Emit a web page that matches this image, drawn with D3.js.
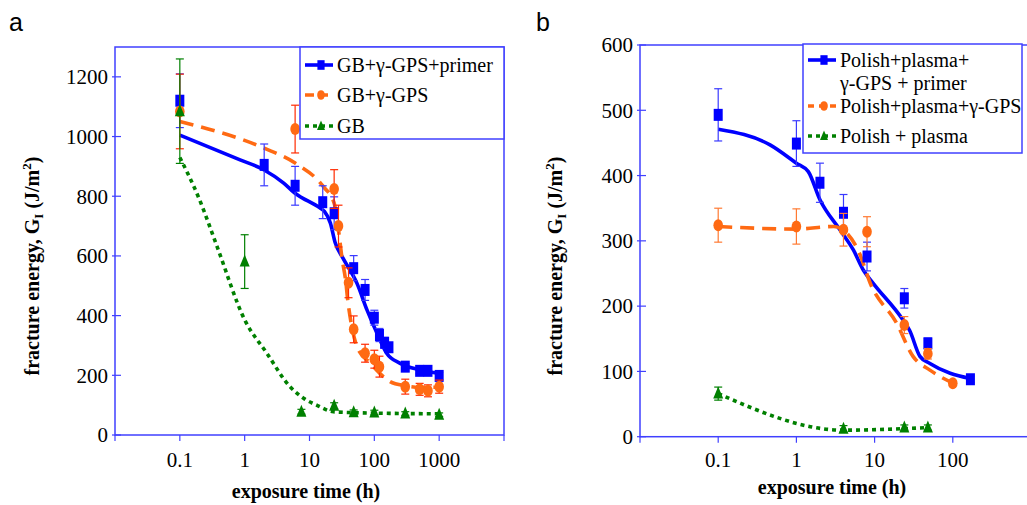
<!DOCTYPE html>
<html>
<head>
  <meta charset="utf-8">
  <script src="https://cdn.jsdelivr.net/npm/d3@7"></script>
  <style>
    body { margin: 0; background: #fff; }
  </style>
</head>
<body>
<script>
// ---- panel a data : [time (h), G (J/m2), error] ----
var aPrimer = [[0.1,1120,90],[2,905,70],[6,835,65],[16,780,55],[24,743,55],[48,559,42],[72,486,35],
  [100,393,25],[120,335,22],[144,309,18],[168,294,15],[300,229,10],[500,215,10],[672,215,10],[1000,198,12]];
var aGps = [[0.1,1084,125],[6,1025,80],[24,824,65],[28,700,70],[40,510,50],[48,354,45],[72,274,30],
  [100,254,30],[120,229,35],[300,162,25],[500,153,20],[672,148,20],[1000,162,22]];
var aGb = [[0.1,1085,175],[1,581,90],[7.5,78,8],[24,98,10],[48,76,8],[100,75,8],[300,72,6],[1000,68,6]];
// fitted trend curves, panel a
var aPrimerFit = [[0.1,1005],[0.85,922],[2,888],[4,844],[6,810],[14.6,760],[17,749],[21,710],[25,643],
  [33,592],[54,508],[77,419],[110,341],[155,274],[250,240],[510,218],[1000,207]];
var aGpsFit = [[0.1,1050],[2,961],[6,911],[16.4,832],[24,777],[28,687],[32,587],[36,520],[39,450],
  [44,374],[54,296],[87,240],[175,179],[300,165],[500,160],[1000,160]];
var aGbFit = [[0.1,930],[0.2,790],[0.37,635],[1,386],[2.2,274],[5,162],[8.1,123],[12.9,100],
  [23.4,78],[47,75],[1000,71]];

// ---- panel b data ----
var bPrimer = [[0.1,493,40],[1,449,35],[2,389,30],[4,343,28],[8,276,22],[24,212,15],[48,143,8],[168,88,5]];
var bGps = [[0.1,324,26],[1,322,27],[4,317,25],[8,314,23],[24,171,13],[48,127,8],[100,82,4]];
var bPlasma = [[0.1,66,10],[4,12,5],[24,14,4],[48,14,4]];
var bPrimerFit = [[0.1,471],[0.46,447],[1,419],[1.42,406],[2,363],[3.6,317],[5.35,286],[7.2,255],
  [9.6,235],[23,179],[28,163],[38,123],[51,112],[168,89]];
var bGpsFit = [[0.1,322],[1,318],[3,322],[4.4,312],[6.4,281],[8.8,235],[19.1,174],[31,123],[51,102],[100,82]];
var bPlasmaFit = [[0.1,66],[4,10],[48,14]];

var aYTicks = [0,200,400,600,800,1000,1200];
var bYTicks = [0,100,200,300,400,500,600];
var aXTicks = [0.1,1,10,100,1000];
var bXTicks = [0.1,1,10,100];

var legendA = ["GB+\u03b3-GPS+primer","GB+\u03b3-GPS","GB"];
var legendB = [["Polish+plasma+","\u03b3-GPS + primer"],["Polish+plasma+\u03b3-GPS"],["Polish + plasma"]];

var BLUE = "#0000ff", ORANGE = "#ff6a13", GREEN = "#008000", FRAME = "#4040ff";
var SERIF = "Liberation Serif";

var svg = d3.select("body").append("svg").attr("width", 1027).attr("height", 505);

function txt(g) {
  return g.append("text").style("font-family", SERIF);
}

function panel(o) {
  var x = d3.scaleLog().domain(o.xDom).range([o.left, o.right]);
  var y = d3.scaleLinear().domain(o.yDom).range([o.bottom, o.top]);
  var g = svg.append("g");

  // frame
  g.append("rect").attr("x", o.left).attr("y", o.top)
    .attr("width", o.right - o.left).attr("height", o.bottom - o.top)
    .attr("fill", "none").attr("stroke", FRAME).attr("stroke-width", 1.5);

  // y ticks + labels
  o.yTicks.forEach(function (t) {
    g.append("line").attr("x1", o.left - 3).attr("x2", o.left + 6)
      .attr("y1", y(t)).attr("y2", y(t)).attr("stroke", FRAME).attr("stroke-width", 1.2);
    txt(g).attr("x", o.left - 7).attr("y", y(t)).attr("dy", "0.35em")
      .attr("text-anchor", "end").style("font-size", "21px").text(t);
  });
  // x ticks (decades) + labels
  var dec = [];
  for (var p = Math.log10(o.xDom[0]); p <= Math.log10(o.xDom[1]) + 1e-9; p++) dec.push(Math.pow(10, p));
  dec.forEach(function (t) {
    g.append("line").attr("x1", x(t)).attr("x2", x(t))
      .attr("y1", o.bottom).attr("y2", o.bottom + 6).attr("stroke", FRAME).attr("stroke-width", 1.2);
  });
  o.xTicks.forEach(function (t) {
    txt(g).attr("x", x(t)).attr("y", 467).attr("text-anchor", "middle")
      .style("font-size", "21px").text(t);
  });

  // axis titles
  txt(g).attr("x", o.xLabelX).attr("y", o.xLabelY).attr("text-anchor", "middle")
    .style("font-size", "20px").style("font-weight", "bold").text("exposure time (h)");
  var yl = txt(g).attr("transform", "translate(" + o.yLabelX + ",266) rotate(-90)")
    .attr("text-anchor", "middle").style("font-size", "20px").style("font-weight", "bold");
  yl.append("tspan").text("fracture energy, G");
  yl.append("tspan").attr("dy", 4).style("font-size", "13px").text("I");
  yl.append("tspan").attr("dy", -4).text(" (J/m");
  yl.append("tspan").attr("dy", -8).style("font-size", "13px").text("2");
  yl.append("tspan").attr("dy", 8).text(")");

  g.append("text").attr("x", o.letterX).attr("y", 31)
    .style("font-family", "Liberation Sans").style("font-size", "25px").text(o.letter);

  var line = d3.line().x(function (d) { return x(d[0]); }).y(function (d) { return y(d[1]); })
    .curve(d3.curveMonotoneX);

  o.series.forEach(function (s) {
    g.append("path").datum(s.fit).attr("d", line).attr("fill", "none")
      .attr("stroke", s.color).attr("stroke-width", 3.6).attr("stroke-dasharray", s.dash);
  });
  o.series.forEach(function (s) {
    s.data.forEach(function (d) {
      var cx = x(d[0]), lo = y(d[1] - d[2]), hi = y(d[1] + d[2]);
      g.append("line").attr("x1", cx).attr("x2", cx).attr("y1", lo).attr("y2", hi)
        .attr("stroke", s.err).attr("stroke-width", 1.2);
      [lo, hi].forEach(function (yy) {
        g.append("line").attr("x1", cx - 4).attr("x2", cx + 4).attr("y1", yy).attr("y2", yy)
          .attr("stroke", s.err).attr("stroke-width", 1.2);
      });
    });
    s.data.forEach(function (d) { marker(g, s.shape, x(d[0]), y(d[1]), s.color); });
  });

  // legend
  g.append("rect").attr("x", o.leg.x).attr("y", o.leg.y).attr("width", o.leg.w).attr("height", o.leg.h)
    .attr("fill", "#fff").attr("stroke", FRAME).attr("stroke-width", 1.5);
  o.series.forEach(function (s, i) {
    var ly = o.leg.rows[i];
    g.append("line").attr("x1", o.leg.x + 5).attr("x2", o.leg.x + 33).attr("y1", ly).attr("y2", ly)
      .attr("stroke", s.color).attr("stroke-width", 3.6).attr("stroke-dasharray", s.legDash);
    marker(g, s.shape, o.leg.x + 21, ly, s.color, 0.8);
    var lines = [].concat(o.leg.labels[i]);
    lines.forEach(function (t, k) {
      txt(g).attr("x", o.leg.x + 37).attr("y", ly + k * 23).attr("dy", "0.35em")
        .style("font-size", "20px").text(t);
    });
  });
}

function marker(g, shape, cx, cy, color, k) {
  k = k || 1;
  if (shape === "square") {
    g.append("rect").attr("x", cx - 4.5 * k).attr("y", cy - 6 * k).attr("width", 9 * k).attr("height", 12 * k)
      .attr("fill", color);
  } else if (shape === "circle") {
    g.append("ellipse").attr("cx", cx).attr("cy", cy).attr("rx", 4.8 * k).attr("ry", 6 * k).attr("fill", color);
  } else {
    g.append("path").attr("d", "M" + cx + "," + (cy - 7 * k) + "L" + (cx + 5 * k) + "," + (cy + 5 * k) +
      "L" + (cx - 5 * k) + "," + (cy + 5 * k) + "Z").attr("fill", color);
  }
}

panel({
  letter: "a", letterX: 9,
  xDom: [0.01, 10000], yDom: [0, 1300], left: 115, right: 504, top: 47, bottom: 435,
  yTicks: aYTicks, xTicks: aXTicks, xLabelX: 306, xLabelY: 498, yLabelX: 39,
  series: [
    {data: aPrimer, fit: aPrimerFit, color: BLUE, err: "#3a3aff", shape: "square", dash: null, legDash: null},
    {data: aGps, fit: aGpsFit, color: ORANGE, err: "#ff2a00", shape: "circle", dash: "14,8", legDash: "9,5"},
    {data: aGb, fit: aGbFit, color: GREEN, err: GREEN, shape: "tri", dash: "4,4", legDash: "4,4"}
  ],
  leg: {x: 300, y: 47, w: 204, h: 92, rows: [65, 95, 126], labels: legendA}
});

panel({
  letter: "b", letterX: 536,
  xDom: [0.01, 1000], yDom: [0, 600], left: 640, right: 1031, top: 45, bottom: 436.7,
  yTicks: bYTicks, xTicks: bXTicks, xLabelX: 832, xLabelY: 494, yLabelX: 562,
  series: [
    {data: bPrimer, fit: bPrimerFit, color: BLUE, err: "#3a3aff", shape: "square", dash: null, legDash: null},
    {data: bGps, fit: bGpsFit, color: ORANGE, err: "#ff7a33", shape: "circle", dash: "14,8", legDash: "6,5"},
    {data: bPlasma, fit: bPlasmaFit, color: GREEN, err: GREEN, shape: "tri", dash: "4,4", legDash: "4,4"}
  ],
  leg: {x: 803, y: 44, w: 219, h: 109, rows: [60, 106, 136], labels: legendB}
});
</script>
</body>
</html>
